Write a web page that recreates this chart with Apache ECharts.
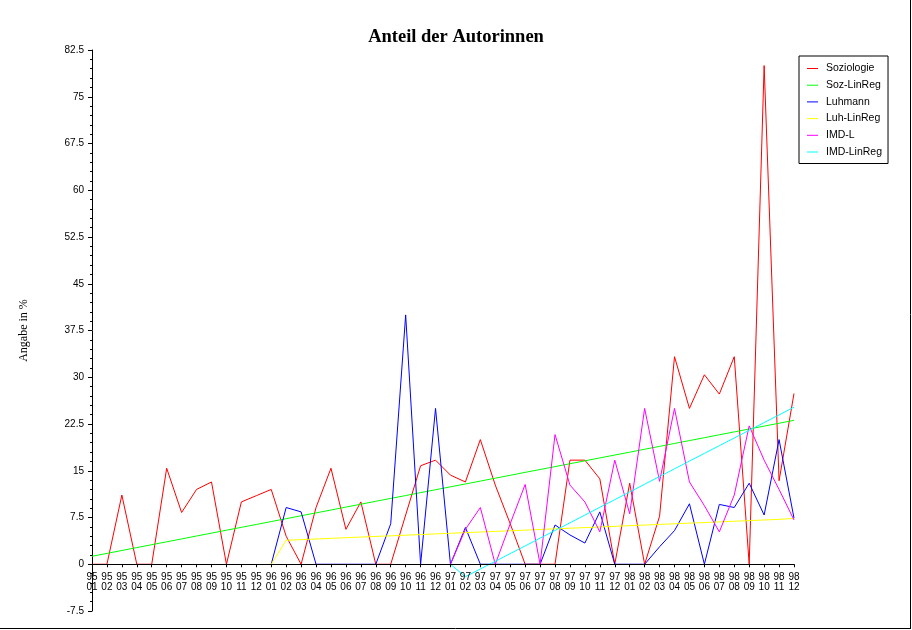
<!DOCTYPE html>
<html>
<head>
<meta charset="utf-8">
<script src="https://cdn.jsdelivr.net/npm/echarts@6/dist/echarts.min.js"></script>
<style>
html,body{margin:0;padding:0;background:#fff;}
#chart{width:912px;height:630px;}
</style>
</head>
<body>
<div id="chart"></div>
<script>
var categories = [
  "95\n01","95\n02","95\n03","95\n04","95\n05","95\n06","95\n07","95\n08","95\n09","95\n10","95\n11","95\n12",
  "96\n01","96\n02","96\n03","96\n04","96\n05","96\n06","96\n07","96\n08","96\n09","96\n10","96\n11","96\n12",
  "97\n01","97\n02","97\n03","97\n04","97\n05","97\n06","97\n07","97\n08","97\n09","97\n10","97\n11","97\n12",
  "98\n01","98\n02","98\n03","98\n04","98\n05","98\n06","98\n07","98\n08","98\n09","98\n10","98\n11","98\n12"
];
var soziologie = [
  0, 0, 11.1, 0, 0, 15.4, 8.3, 12, 13.2, 0, 10, 11,
  12, 4.5, 0, 9.1, 15.4, 5.6, 10, 0, 0, 7.9, 15.8, 16.7,
  14.3, 13.2, 20, 12.7, 6.5, 0, 0, 0, 16.7, 16.7, 13.7, 0,
  13, 0, 7.7, 33.3, 25, 30.4, 27.3, 33.3, 0, 80, 13.4, 27.4
];
var sozLinReg = [
  1.28, 1.74, 2.21, 2.67, 3.14, 3.60, 4.06, 4.53, 4.99, 5.46, 5.92, 6.38,
  6.85, 7.31, 7.78, 8.24, 8.70, 9.17, 9.63, 10.10, 10.56, 11.02, 11.49, 11.95,
  12.42, 12.88, 13.34, 13.81, 14.27, 14.74, 15.20, 15.66, 16.13, 16.59, 17.06, 17.52,
  17.98, 18.45, 18.91, 19.38, 19.84, 20.30, 20.77, 21.23, 21.70, 22.16, 22.62, 23.09
];
var luhmann = [
  null, null, null, null, null, null, null, null, null, null, null, null,
  0, 9.1, 8.4, 0, 0, 0, 0, 0, 6.5, 40, 0, 25,
  0, 5.9, 0, 0, 0, 0, 0, 6.3, 4.7, 3.4, 8.4, 0,
  0, 0, 2.8, 5.4, 9.7, 0, 9.6, 9.1, 13, 7.9, 20, 7.4
];
var luhLinReg = [
  null, null, null, null, null, null, null, null, null, null, null, null,
  0, 3.85, 3.95, 4.05, 4.15, 4.26, 4.36, 4.46, 4.56, 4.66, 4.76, 4.87,
  4.97, 5.07, 5.17, 5.27, 5.37, 5.47, 5.58, 5.68, 5.78, 5.88, 5.98, 6.08,
  6.19, 6.29, 6.39, 6.49, 6.59, 6.69, 6.80, 6.90, 7.00, 7.10, 7.20, 7.35
];
var imdL = [
  null, null, null, null, null, null, null, null, null, null, null, null,
  null, null, null, null, null, null, null, null, null, null, null, null,
  0, 5.6, 9.1, 0, 6.5, 12.8, 0, 20.8, 12.7, 10, 5.2, 16.7,
  8.1, 25, 13.3, 25, 13.2, 9.4, 5.2, 11.1, 22.2, 16.7, 12, 7.1
];
var imdLinReg = [
  null, null, null, null, null, null, null, null, null, null, null, null,
  null, null, null, null, null, null, null, null, null, null, null, null,
  0, -2.00, -0.76, 0.47, 1.71, 2.94, 4.18, 5.42, 6.65, 7.89, 9.13, 10.36,
  11.60, 12.84, 14.07, 15.31, 16.55, 17.78, 19.02, 20.25, 21.49, 22.73, 23.96, 25.20
];
var seriesNames = ["Soziologie", "Soz-LinReg", "Luhmann", "Luh-LinReg", "IMD-L", "IMD-LinReg"];
var seriesColors = ["#ff0000", "#00ff00", "#0000ff", "#ffff00", "#ff00ff", "#00ffff"];
var seriesData = [soziologie, sozLinReg, luhmann, luhLinReg, imdL, imdLinReg];

var chart = echarts.init(document.getElementById('chart'), null, {renderer: 'canvas'});
var sans = '"Liberation Sans", Arial, sans-serif';
var gridTop = 50, gridBottom = 19, yMin = -7.5, yMax = 82.5;
var zeroOffset = -(630 - gridTop - gridBottom) * (0 - yMin) / (yMax - yMin);
var option = {
  animation: false,
  backgroundColor: '#ffffff',
  title: {
    text: 'Anteil der Autorinnen',
    left: 'center',
    top: 23,
    textStyle: {fontFamily: '"Liberation Serif", "Times New Roman", serif', fontWeight: 'bold', fontSize: 18.5, color: '#000'}
  },
  legend: {
    orient: 'vertical',
    left: 799,
    top: 56,
    padding: [7, 6, 6, 8],
    itemGap: 5.7,
    itemWidth: 11,
    itemHeight: 10,
    borderColor: '#000',
    borderWidth: 1,
    backgroundColor: '#fff',
    icon: 'path://M0,4.5 L11,4.5 L11,5.5 L0,5.5 Z',
    textStyle: {fontFamily: sans, fontSize: 10.5, color: '#000', padding: [0, 0, 0, 3]},
    data: seriesNames
  },
  grid: {left: 92, right: 118, top: gridTop, bottom: gridBottom, containLabel: false, outerBoundsMode: 'none'},
  xAxis: {
    type: 'category',
    boundaryGap: false,
    data: categories,
    z: 5,
    offset: zeroOffset,
    axisLine: {onZero: false, lineStyle: {color: '#000', width: 1}},
    axisTick: {show: true, length: 3, interval: 0, lineStyle: {color: '#000'}},
    axisLabel: {interval: 0, fontFamily: sans, fontSize: 10, lineHeight: 10, color: '#000', margin: 8},
    splitLine: {show: false}
  },
  yAxis: {
    type: 'value',
    min: yMin,
    max: yMax,
    interval: 7.5,
    name: 'Angabe in %',
    nameLocation: 'middle',
    nameRotate: 90,
    nameGap: 62,
    nameTextStyle: {fontFamily: '"Liberation Serif", serif', fontSize: 12, color: '#000'},
    axisLine: {show: true, onZero: false, lineStyle: {color: '#000', width: 1}},
    axisTick: {show: true, length: 4, lineStyle: {color: '#000'}},
    minorTick: {show: true, splitNumber: 5, length: 2, lineStyle: {color: '#000'}},
    axisLabel: {fontFamily: sans, fontSize: 10, color: '#000', margin: 8},
    splitLine: {show: false}
  },
  graphic: [
    {type: 'line', shape: {x1: 0, y1: 628.5, x2: 911, y2: 628.5}, style: {stroke: '#000', lineWidth: 1}},
    {type: 'line', shape: {x1: 910.5, y1: 0, x2: 910.5, y2: 629}, style: {stroke: '#000', lineWidth: 1}}
  ],
  series: seriesNames.map(function (n, i) {
    return {
      name: n,
      type: 'line',
      data: seriesData[i],
      symbol: 'none',
      showSymbol: false,
      connectNulls: false,
      color: seriesColors[i],
      lineStyle: {color: seriesColors[i], width: 1},
      z: 2
    };
  })
};
chart.setOption(option);
</script>
</body>
</html>
